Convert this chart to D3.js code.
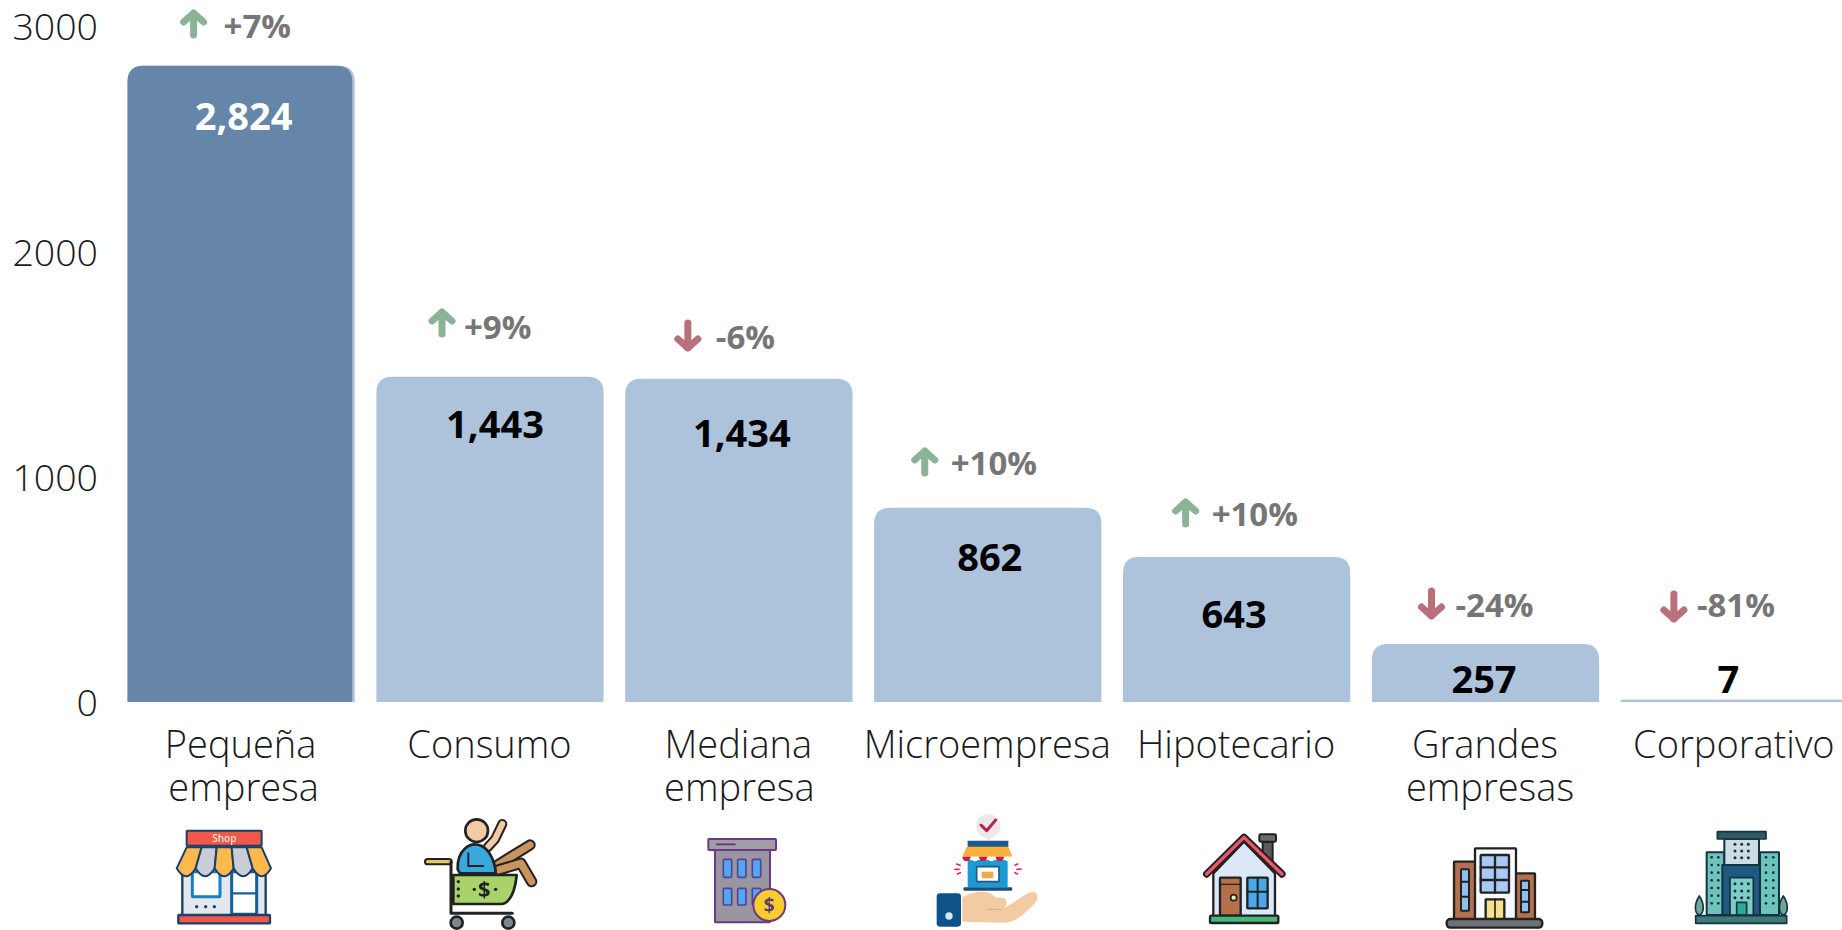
<!DOCTYPE html>
<html><head><meta charset="utf-8">
<script src="https://cdnjs.cloudflare.com/ajax/libs/d3/7.8.5/d3.min.js"></script>
<style>
html,body{margin:0;padding:0;background:#fff;overflow:hidden}
svg{display:block}
text{font-family:"Open Sans",sans-serif}
</style></head><body><svg id="c" width="1842" height="930"></svg>
<script>
// ---- data ----
const categories=[["Pequeña","empresa"],["Consumo"],["Mediana","empresa"],["Microempresa"],["Hipotecario"],["Grandes","empresas"],["Corporativo"]];
const values=[2824,1443,1434,862,643,257,7];
const changes=[7,9,-6,10,10,-24,-81];
const yTicks=[0,1000,2000,3000];
// ---- label nudges (px), measured from each bar ----
const valueDx=[2.5,5,3,2,-2.5,-1.5,-6];
const valueY=[116.5,424,433,557,614,679,679];
const changeTextDx=[-17.5,-26,-23,-37,-25,-30,-37.5];
const changeArrowDx=[-47.5,-48,-51,-63,-51,-54,-60.5];
const changeY=[26,327,337,463,514,605,605];
const arrowDy=[-2,-4,-1,-1,-1,-1,2];
const line2Dx=[3,0,1,0,0,5,0];

const svg=d3.select("#c");
const keys=categories.map(c=>c.join(" "));
const x=d3.scaleBand().domain(keys).range([127.5,1848]).paddingInner(0.087).paddingOuter(0);
const y=d3.scaleLinear().domain([0,3000]).range([702,26]);
const LIGHT="#adc3dc",DARK="#6585a9",UP="#8cb396",DOWN="#b9707a";
const topBar=(x0,w,v)=>{const t=y(v),b=y(0),r=Math.min(16,b-t);
  const p=d3.path();p.moveTo(x0,b);p.lineTo(x0,t+r);p.quadraticCurveTo(x0,t,x0+r,t);
  p.lineTo(x0+w-r,t);p.quadraticCurveTo(x0+w,t,x0+w,t+r);p.lineTo(x0+w,b);p.closePath();return p.toString();};

// axis
const axis=d3.axisLeft(y).tickValues(yTicks).tickSize(0).tickPadding(0).tickFormat(d3.format("d"));
const ag=svg.append("g").attr("transform","translate(98,0)").call(axis);
ag.select(".domain").remove();
ag.selectAll("text").attr("font-family",'"Open Sans"').attr("font-size",37.5).attr("font-weight",300).attr("fill","#1a1a1a").attr("dy","0.37em");

// bars
const g=svg.append("g");
g.selectAll("path.bar").data(values).join("path").attr("class","bar")
  .attr("d",(v,i)=>topBar(x(keys[i]),x.bandwidth(),v)).attr("fill",LIGHT);
g.append("path").attr("d",topBar(x(keys[0]),x.bandwidth()-2.5,values[0])).attr("fill",DARK);
g.append("rect").attr("x",x(keys[6])).attr("y",y(0)-2.4).attr("width",x.bandwidth()).attr("height",2.4).attr("fill",LIGHT);

// value labels
g.selectAll("text.val").data(values).join("text").attr("class","val")
  .attr("x",(v,i)=>x(keys[i])+x.bandwidth()/2+valueDx[i]).attr("y",(v,i)=>valueY[i]).attr("dy","0.36em")
  .attr("text-anchor","middle").attr("font-size",38).attr("font-weight",700)
  .attr("fill",(v,i)=>i===0?"#fff":"#000").text(d3.format(","));

// change labels
const fmt=d=>(d>=0?"+":"-")+Math.abs(d)+"%";
g.selectAll("text.chg").data(changes).join("text").attr("class","chg")
  .attr("x",(d,i)=>x(keys[i])+x.bandwidth()/2+changeTextDx[i]).attr("y",(d,i)=>changeY[i]).attr("dy","0.36em")
  .attr("font-size",33).attr("font-weight",700).attr("fill","#767676").text(fmt);
const arrows=g.selectAll("g.arr").data(changes).join("g").attr("class","arr")
  .attr("transform",(d,i)=>`translate(${x(keys[i])+x.bandwidth()/2+changeArrowDx[i]},${changeY[i]+arrowDy[i]})`)
  .attr("fill","none").attr("stroke-width",7).attr("stroke-linecap","round").attr("stroke-linejoin","round")
  .attr("stroke",d=>d>=0?UP:DOWN);
arrows.append("path").attr("d",d=>d>=0?"M0,11 V-11 M-10,-2 L0,-11 L10,-2":"M0,-13 V12 M-10,3 L0,12 L10,3");

// category labels
const cats=svg.append("g");
categories.forEach((lines,i)=>{
  const cx=x(keys[i])+x.bandwidth()/2-0.5;
  lines.forEach((t,j)=>cats.append("text").attr("x",cx+(j===1?line2Dx[i]:0)).attr("y",758+j*43)
    .attr("text-anchor","middle").attr("font-size",38).attr("font-weight",300).attr("fill","#1a1a1a").text(t));
});

// ---- pictograms (decorative artwork, not data) ----
const defs=svg.append("defs");
defs.append("filter").attr("id","soft").append("feGaussianBlur").attr("stdDeviation",0.7);
const icon=(ox,oy,s)=>svg.append("g").attr("transform",`translate(${ox},${oy}) scale(0.3333)`).attr("filter","url(#soft)").html(s);
const rect=(x,y,x2,y2,f,st,sw=6,rx=2)=>`<rect x="${x}" y="${y}" width="${x2-x}" height="${y2-y}" rx="${rx}" fill="${f}" stroke="${st}" stroke-width="${sw}"/>`;
const circ=(x,y,r,f,st="none",sw=0)=>`<circle cx="${x}" cy="${y}" r="${r}" fill="${f}" stroke="${st}" stroke-width="${sw}"/>`;
const path=(d,f,st="none",sw=0)=>`<path d="${d}" fill="${f}" stroke="${st}" stroke-width="${sw}" stroke-linecap="round" stroke-linejoin="round"/>`;
const tube=(d,dark,fill,w)=>path(d,"none",dark,w)+path(d,"none",fill,w-12);

// Shop
{const N="#1c3f66";let s=rect(52,160,302,302,"#e3e8ee",N,7);
 s+=rect(82,170,165,245,"#fff","#1780c4",9)+rect(200,170,275,298,"#fff","#16609a",9);
 s+=path("M200,235H275","none","#16609a",7);
 [95,122,148].forEach(c=>s+=circ(c,275,5,N));
 const tx=[65,110,155,200,245,290],bx=[35,92,149,206,263,318],cs=["#fdb94e","#c9ced6","#fdb94e","#c9ced6","#fdb94e"];
 cs.forEach((c,i)=>{s+=path(`M${tx[i]},97 L${tx[i+1]},97 L${bx[i+1]},160 Q${(bx[i]+bx[i+1])/2},208 ${bx[i]},160Z`,c,N,6);});
 s+=rect(65,47,290,92,"#f0584a",N,6)+`<text x="178" y="82" text-anchor="middle" font-size="30" font-weight="600" fill="#ffe6e0">Shop</text>`;
 s+=rect(40,300,315,325,"#f0584a",N,7);
 icon(165,815,s);}

// Cart
{const K="#222";let s=tube("M218,112 L240,88 L262,42",K,"#f3cba3",30);
 s+=tube("M248,165 L345,105",K,"#c8935f",34)+tube("M250,180 L318,160 L350,215",K,"#c8935f",34);
 s+=circ(185,62,34,"#f3cba3",K,8);
 s+=path("M128,178 C126,120 165,92 200,108 C228,122 242,165 242,190 L135,190Z","#38a9dc",K,8);
 s+=path("M160,130 V168 H205","none",K,6);
 s+=path("M115,195 H305 Q298,272 262,282 H115Z","#a8d26a",K,8);
 s+=tube("M38,155 H102",K,"#e8c766",22)+path("M108,155 V310 H292","none",K,9);
 s+=`<text x="208" y="262" text-anchor="middle" font-size="66" font-weight="700" fill="${K}">$</text>`;
 [[130,215],[130,237],[130,258],[178,238],[242,238]].forEach(p=>s+=circ(p[0],p[1],5,K));
 s+=circ(125,338,18,"#7d8790",K,8)+circ(280,338,18,"#7d8790",K,8);
 icon(415,810,s);}

// Building with coin
{const P="#6b3a82";let s=rect(75,75,240,292,"#9a96a0",P,6)+rect(55,42,258,75,"#a29ba8",P,6);
 s+=path("M80,58H135","none","#5b3a70",5);
 [100,143,187].forEach(c=>{s+=rect(c,103,c+25,157,"#4fa8f0","#5a3f9a",5,3)+rect(c,190,c+25,240,"#4fa8f0","#5a3f9a",5,3);});
 s+=circ(238,240,48,"#f7cd2e",P,6)+`<text x="238" y="261" text-anchor="middle" font-size="58" font-weight="700" fill="#5b3a70">$</text>`;
 icon(690,825,s);}

// Hand with store
{let s=circ(190,48,36,"#ece8ea")+path("M180,78 L190,95 L200,78Z","#ece8ea")+path("M168,45 L185,62 L212,30","none","#b8234d",9);
 s+=rect(128,92,250,112,"#1e5a8c","none",0);
 s+=rect(128,150,248,232,"#1e9ad2","none",0)+rect(155,170,222,215,"#fff","#1e5a8c",5,1)+rect(170,185,205,205,"#f5a64a","none",0,1);
 s+=path("M125,110H250L262,140H112Z","#fbb03b");
 ["#c81e54","#fff","#c81e54","#fff","#c81e54","#fff"].forEach((c,i)=>{const a=112+i*25;s+=path(`M${a},140 H${a+25} A12.5,14 0 0 1 ${a},140Z`,c);});
 s+=rect(115,232,262,242,"#1e4f7a","none",0,4);
 [[95,162,105,166],[90,178,102,178],[97,192,106,188],[278,162,270,166],[288,177,276,178],[278,192,270,188]].forEach(d=>s+=path(`M${d[0]},${d[1]}L${d[2]},${d[3]}`,"none","#e0295f",5));
 s+=path("M112,262 C150,240 195,240 210,262 L240,265 C252,285 240,295 225,297 C260,290 300,245 325,245 C345,250 340,270 325,285 C300,310 270,338 240,338 L112,335Z","#f3cba3");
 s+=path("M185,298 H228","none","#dcae82",3);
 s+=rect(35,250,108,350,"#0f5288","none",0,10)+circ(72,318,11,"#d8e8f2");
 icon(925,810,s);}

// House
{const K="#222";let s=rect(218,50,248,115,"#5a5a5f",K,6)+rect(208,28,258,50,"#6b6b70",K,6,4);
 s+=path("M70,145 L162,50 L255,145 V275 H70Z","#dbe8f8",K,7);
 s+=tube("M50,147 L162,37 L276,147",K,"#ef5667",22);
 s+=rect(90,158,152,272,"#b5704a",K,7)+path("M90,178H152","none",K,4)+circ(131,218,9,"#f3e3c8",K,5);
 s+=rect(172,158,233,250,"#4aa8ea",K,7)+path("M172,200H233M203,158V250","none",K,6);
 s+=rect(60,272,265,294,"#45b87a",K,7,4);
 icon(1190,825,s);}

// Big companies
{const K="#222",B="#b46f4f";let s=rect(57,65,122,240,B,K,7)+rect(78,88,102,212,"#8ec1ee",K,6)+path("M78,125H102M78,170H102","none",K,6);
 s+=rect(240,100,300,240,B,K,7)+rect(258,122,282,217,"#8ec1ee",K,6)+path("M258,150H282M258,185H282","none",K,6);
 s+=rect(120,25,243,240,"#f7f9fc",K,7)+rect(137,45,222,158,"#a8c8f5",K,7)+path("M180,45V158M137,82H222M137,120H222","none",K,7);
 s+=rect(152,178,208,238,"#f5e08e",K,7,1)+path("M180,178V238","none",K,5);
 s+=rect(35,237,322,263,"#6c7278",K,7,11);
 icon(1435,840,s);}

// Corporate tower
{const K="#143040";let s=path("M43,213 C25,240 30,267 43,270 C56,267 61,240 43,213Z","#6ea898",K,5)+path("M295,213 C277,240 282,267 295,270 C308,267 313,240 295,213Z","#6ea898",K,5);
 s+=rect(65,82,118,270,"#6cc4bd",K,6,1)+rect(225,82,282,270,"#6cc4bd",K,6,1);
 [[80,100],[243,265]].forEach(p=>{for(let r=97;r<=250;r+=23)p.forEach(c=>s+=circ(c,r,4,K));});
 s+=rect(118,42,222,120,"#cfdde3",K,6,1);
 [150,170,190].forEach(c=>[58,78,98].forEach(r=>s+=circ(c,r,4.5,K)));
 s+=rect(112,120,225,270,"#1f5a80",K,6,1)+rect(135,158,205,270,"#7ccdc5",K,5,1);
 [150,170,190].forEach(c=>[176,198,218].forEach(r=>s+=circ(c,r,4.5,K)));
 s+=rect(155,232,185,270,"#2aa89a",K,5,1);
 s+=rect(97,20,243,42,"#2d5a68",K,5,1)+rect(32,272,305,295,"#3c7a78",K,5,1);
 icon(1685,825,s);}
</script></body></html>
